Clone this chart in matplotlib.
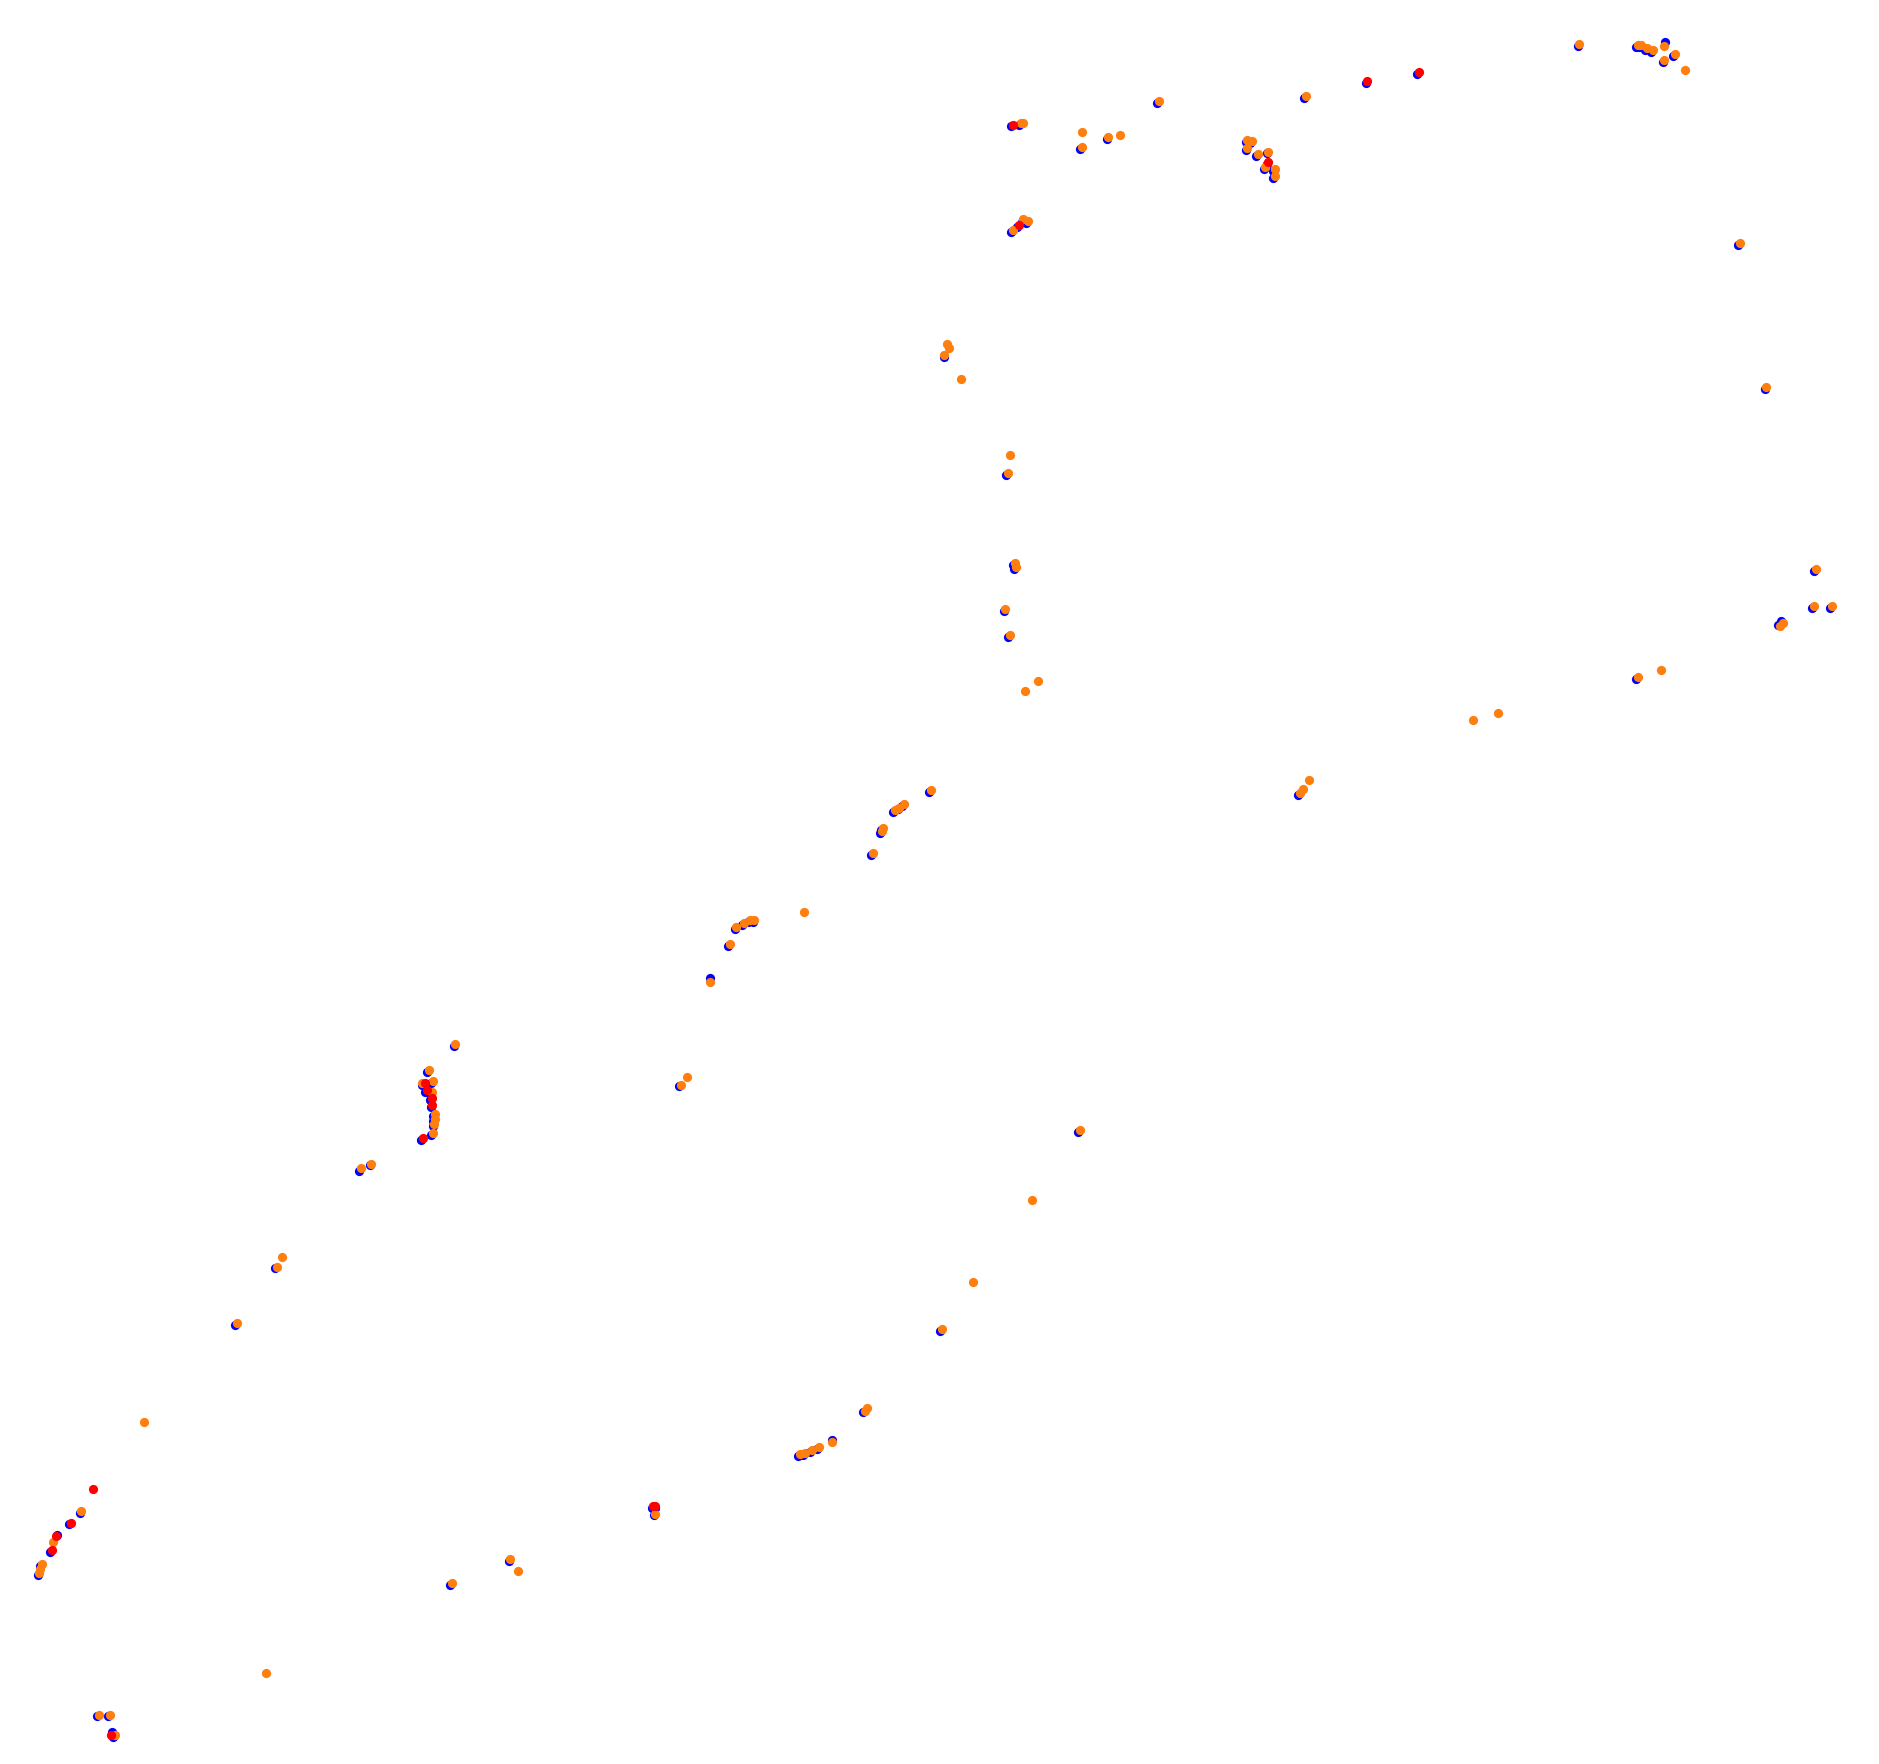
import matplotlib
matplotlib.use('Agg')
import matplotlib.pyplot as plt
import numpy as np

# positions (image units, y grows downwards)
blue_x = [843.5, 850.5, 901.5, 923.5, 965.5, 843.5, 848.5, 852.5, 856.5,
          1088.5, 1139.5, 1182.5, 1316.5, 1365.5, 1368, 1372.5, 1377.5, 1389.5, 1396.5, 1387.5,
          1039.5, 1043.5, 1039.5, 1048.5, 1057, 1057, 1054.5, 1062.5, 1062.5,
          1450.5, 1472.5, 1514, 1512.5, 1527.5, 1486.5, 1484,
          1365.5, 1083.5, 787.5, 839.5, 845.5, 846.5, 837.5, 841.5,
          775.5, 745.5, 749, 753, 735.5, 734, 727, 613, 619, 624.5, 628, 607.5, 592.5,
          566.5, 378.5, 356.5, 352.5, 360, 354.5, 359, 359, 359.5, 361.5, 361, 361, 359.5, 351.5,
          299.5, 308.5, 229.5, 196.5,
          66.5, 57.5, 47.5, 41.5, 33.5, 31.5, 81, 90.5, 93.7, 94.5,
          375.5, 424.5, 545.5, 544, 546.5,
          720.5, 694.5, 666, 670.5, 676, 682, 899.5, 784.5]
blue_y = [105.5, 104.5, 124.5, 116, 86, 193.5, 189.5, 185, 186,
          81.5, 69.5, 61.5, 38.5, 39, 39, 41.5, 43.5, 35, 46.5, 51.5,
          118.5, 119.5, 125, 130, 128, 136.5, 141, 142.5, 148.5,
          204.5, 324.5, 476.5, 507.5, 507.5, 518.5, 521.5,
          566.5, 663.5, 297.5, 396.5, 471.5, 474.5, 509.5, 531.5,
          661, 677.5, 675.5, 672.5, 692.5, 695, 713.5, 775, 772, 769.5, 769, 789, 816.5,
          906.5, 873, 894.5, 905.5, 903.5, 911, 913, 918, 923.5, 931, 935.5, 939.5, 947, 951,
          977, 972.5, 1058.5, 1105.5,
          1262.5, 1272, 1280.5, 1295, 1307, 1314, 1432, 1432, 1445.7, 1449.5,
          1322.5, 1302.5, 1264.5, 1258.5, 1258.5,
          1178.5, 1201.5, 1215, 1214, 1211.5, 1209, 944.5, 1110.5]

orange_x = [852, 854, 903, 903, 925, 935, 967, 845, 854, 858,
            1090, 1318, 1367, 1369, 1374, 1379, 1389, 1398, 1389, 1406,
            1041, 1045, 1041, 1050, 1058.5, 1056, 1064, 1064,
            1452, 1474, 1515.6, 1514, 1529, 1488, 1485,
            1386, 1367, 1250, 1229, 1092, 1087, 1085,
            790, 792, 788, 802, 843, 841, 847, 848, 839, 843, 855, 866,
            777, 747, 750.5, 754.5, 737, 735.6, 728.5, 671,
            614.4, 620.5, 626, 629.5, 609, 592.5, 573, 568,
            379.8, 358, 352, 361.5, 360.5, 363, 362.6, 362.5, 361,
            301, 310, 235, 231, 198, 120,
            68, 44, 35, 33.4, 32.6, 82.6, 91.8, 96,
            222, 377, 426, 432, 547,
            723.5, 722, 694.4, 667.6, 671.8, 677.5, 683.5,
            901, 861, 812, 786]
orange_y = [103, 103, 110, 123, 114, 113, 84, 192, 183, 184,
            80, 37, 37.5, 37.5, 40, 42, 38, 45, 50, 58,
            117, 118, 123.5, 128.6, 126.7, 139.6, 141, 146.8,
            203, 323, 475, 506, 506, 520, 522,
            559, 565, 595, 601, 651, 658, 662,
            287, 290, 296, 316, 380, 395, 470, 473, 508, 530, 577, 568,
            659.5, 676, 674, 671, 691, 693.5, 712, 761,
            773.6, 770.5, 768, 767.5, 787.5, 819.7, 899, 905,
            871.4, 893, 904, 902, 911.6, 929.8, 934, 938, 945.6,
            975, 971, 1049, 1057, 1104, 1187,
            1261, 1287, 1305.5, 1309, 1312.7, 1430.7, 1430.7, 1448,
            1396, 1321, 1301, 1311, 1263,
            1175, 1177.5, 1203.5, 1213.5, 1212.5, 1210, 1207.5,
            943, 1001, 1070, 1109]

red_x = [845, 850, 1141, 1184, 1058.5, 354.7, 356, 360.5, 360.7, 353,
         77.6, 59, 46.7, 43, 92.7, 545, 547]
red_y = [104, 188, 68, 60, 135, 904, 909.7, 916.6, 922, 949.6,
         1242.8, 1270.6, 1282, 1293.6, 1448, 1257, 1257]

fig = plt.figure(figsize=(18.79, 17.64), dpi=100)
ax = fig.add_axes([0, 0, 1, 1])

ax.scatter(blue_x, blue_y, s=44, color='#0000ff', linewidths=0)
ax.scatter(orange_x, orange_y, s=44, color='#ff7f0e', linewidths=0)
ax.scatter(red_x, red_y, s=44, color='#ff0000', linewidths=0)

ax.set_xlim(0, 1568)
ax.set_ylim(1472, 0)
ax.axis('off')

fig.savefig('out.png', dpi=100, facecolor='white')
